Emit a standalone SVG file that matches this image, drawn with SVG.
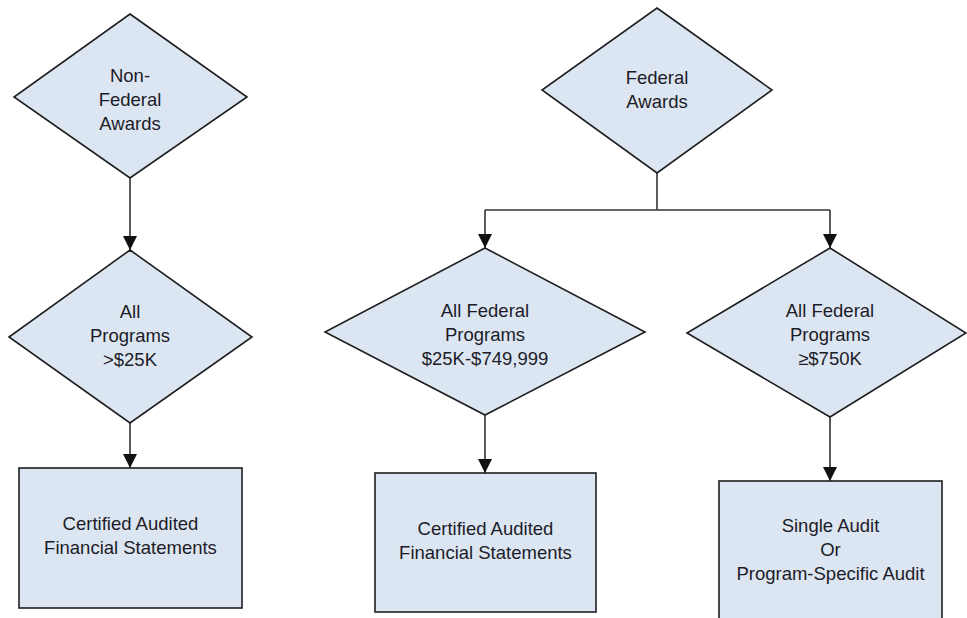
<svg xmlns="http://www.w3.org/2000/svg" width="967" height="618" viewBox="0 0 967 618">
<style>
.shape{fill:#dce6f2;stroke:#1e1e1e;stroke-width:1.6}
.lbl{font-family:"Liberation Sans",Arial,sans-serif;font-size:18.5px;fill:#1c1c28;text-anchor:middle}
.conn{fill:none;stroke:#333;stroke-width:1.6}
</style>
<defs>
<marker id="arr" markerUnits="userSpaceOnUse" markerWidth="14" markerHeight="14" viewBox="0 0 12 12" refX="12" refY="6" orient="auto">
<path d="M0,0 L12,6 L0,12 Z" fill="#111"/>
</marker>
</defs>
<rect width="967" height="618" fill="#fff"/>
<g id="connectors">
<line class="conn" x1="130" y1="178" x2="130" y2="250" marker-end="url(#arr)"/>
<line class="conn" x1="130" y1="423" x2="130" y2="468" marker-end="url(#arr)"/>
<polyline class="conn" points="657,173 657,210"/>
<line class="conn" x1="485" y1="210" x2="830" y2="210"/>
<line class="conn" x1="485" y1="210" x2="485" y2="248" marker-end="url(#arr)"/>
<line class="conn" x1="830" y1="210" x2="830" y2="248" marker-end="url(#arr)"/>
<line class="conn" x1="485" y1="415" x2="485" y2="473" marker-end="url(#arr)"/>
<line class="conn" x1="830" y1="417" x2="830" y2="481" marker-end="url(#arr)"/>
</g>
<g id="nonfederal">
<polygon class="shape" points="130,14 247,97 130,178 14,97"/>
<text class="lbl" x="130" y="82">Non-</text>
<text class="lbl" x="130" y="106">Federal</text>
<text class="lbl" x="130" y="130">Awards</text>
</g>
<g id="federal">
<polygon class="shape" points="657,8 772,90 657,173 542,90"/>
<text class="lbl" x="657" y="84">Federal</text>
<text class="lbl" x="657" y="108">Awards</text>
</g>
<g id="allprograms">
<polygon class="shape" points="130,250 252,337 130,423 9,337"/>
<text class="lbl" x="130" y="318">All</text>
<text class="lbl" x="130" y="342">Programs</text>
<text class="lbl" x="130" y="366">&gt;$25K</text>
</g>
<g id="fed-mid">
<polygon class="shape" points="485,248 645,332 485,415 325,332"/>
<text class="lbl" x="485" y="317">All Federal</text>
<text class="lbl" x="485" y="341">Programs</text>
<text class="lbl" x="485" y="365">$25K-$749,999</text>
</g>
<g id="fed-high">
<polygon class="shape" points="830,248 966,333 830,417 687,333"/>
<text class="lbl" x="830" y="317">All Federal</text>
<text class="lbl" x="830" y="341">Programs</text>
<text class="lbl" x="830" y="365">≥$750K</text>
</g>
<g id="cafs-left">
<rect class="shape" x="19" y="468" width="223" height="140"/>
<text class="lbl" x="130.5" y="530">Certified Audited</text>
<text class="lbl" x="130.5" y="554">Financial Statements</text>
</g>
<g id="cafs-mid">
<rect class="shape" x="375" y="473" width="221" height="139"/>
<text class="lbl" x="485.5" y="535">Certified Audited</text>
<text class="lbl" x="485.5" y="559">Financial Statements</text>
</g>
<g id="single-audit">
<rect class="shape" x="719" y="481" width="223" height="145"/>
<text class="lbl" x="830.5" y="532">Single Audit</text>
<text class="lbl" x="830.5" y="556">Or</text>
<text class="lbl" x="830.5" y="580">Program-Specific Audit</text>
</g>
</svg>
